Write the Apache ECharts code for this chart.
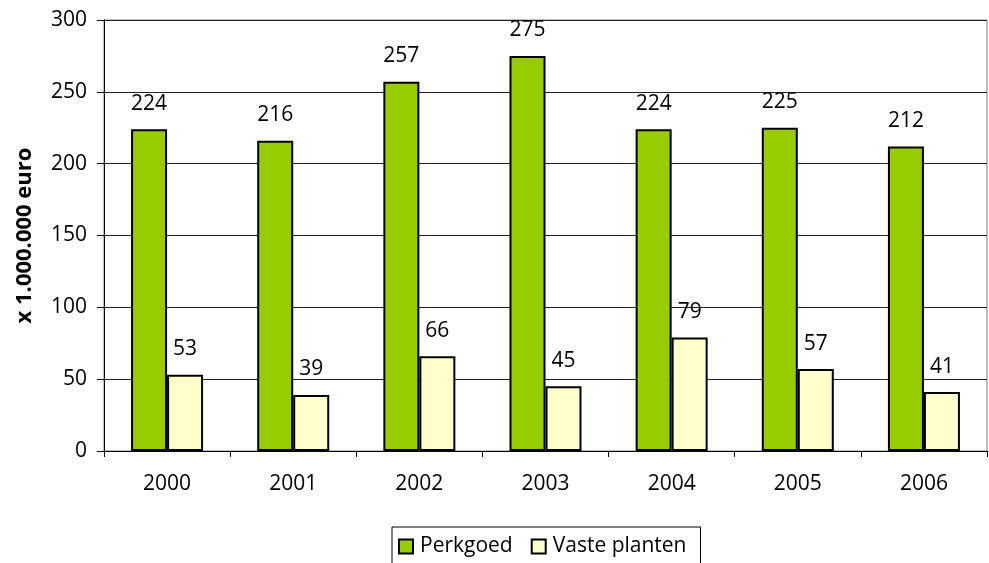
<html>
<head>
	<meta http-equiv="Content-Type" content="text/html; charset=UTF-8">
	<title>charts</title>
	<script type="text/javascript" src="https://cdn.jsdelivr.net/npm/echarts@6/dist/echarts.min.js"></script>
</head>
<body style="margin:0">
	<div id="chart" style="width:989px;height:563px"></div>
	<script type="text/javascript">
	var years = ['2000', '2001', '2002', '2003', '2004', '2005', '2006'];
	var perkgoed = [224, 216, 257, 275, 224, 225, 212];
	var vastePlanten = [53, 39, 66, 45, 79, 57, 41];
	var fontName = 'Open Sans';

	var myChart = echarts.init(document.getElementById('chart'));

	var labelStyle = {
		show: true,
		position: 'top',
		distance: 15,
		color: '#000',
		fontSize: 21,
		fontFamily: fontName
	};

	var option = {
		animation: false,
		backgroundColor: '#fff',
		grid: {
			left: 104, right: 2, top: 20, bottom: 112,
			show: true, borderColor: '#808080', borderWidth: 1
		},
		legend: {
			data: ['Perkgoed', 'Vaste planten'],
			left: 392, top: 527,
			borderColor: '#000', borderWidth: 1,
			padding: [9, 14, 12, 6],
			itemWidth: 14, itemHeight: 14, itemGap: 18,
			icon: 'rect',
			textStyle: { fontSize: 21, fontFamily: fontName, color: '#000', padding: [0, 0, 0, 2] }
		},
		xAxis: {
			type: 'category',
			data: years,
			axisLine: { lineStyle: { color: '#000' } },
			axisTick: { show: true, length: 6, lineStyle: { color: '#000' } },
			axisLabel: { color: '#000', fontSize: 21, fontFamily: fontName, margin: 23 }
		},
		yAxis: {
			type: 'value',
			min: 0, max: 300, interval: 50,
			name: 'x 1.000.000 euro',
			nameLocation: 'middle',
			nameGap: 68,
			nameTextStyle: { color: '#000', fontSize: 22, fontWeight: 'bold', fontFamily: fontName },
			axisLine: { show: true, lineStyle: { color: '#000' } },
			axisTick: { show: true, length: 7, lineStyle: { color: '#000' } },
			axisLabel: { color: '#000', fontSize: 21, fontFamily: fontName, margin: 17 },
			splitLine: { lineStyle: { color: '#222' } }
		},
		series: [
			{
				name: 'Perkgoed',
				type: 'bar',
				data: perkgoed,
				barWidth: 36,
				barGap: '0%',
				itemStyle: { color: '#99cc00', borderColor: '#000', borderWidth: 2 },
				label: labelStyle
			},
			{
				name: 'Vaste planten',
				type: 'bar',
				data: vastePlanten,
				barWidth: 36,
				barGap: '0%',
				itemStyle: { color: '#ffffcc', borderColor: '#000', borderWidth: 2 },
				label: labelStyle
			}
		]
	};
	myChart.setOption(option);
	</script>
</body>
</html>
